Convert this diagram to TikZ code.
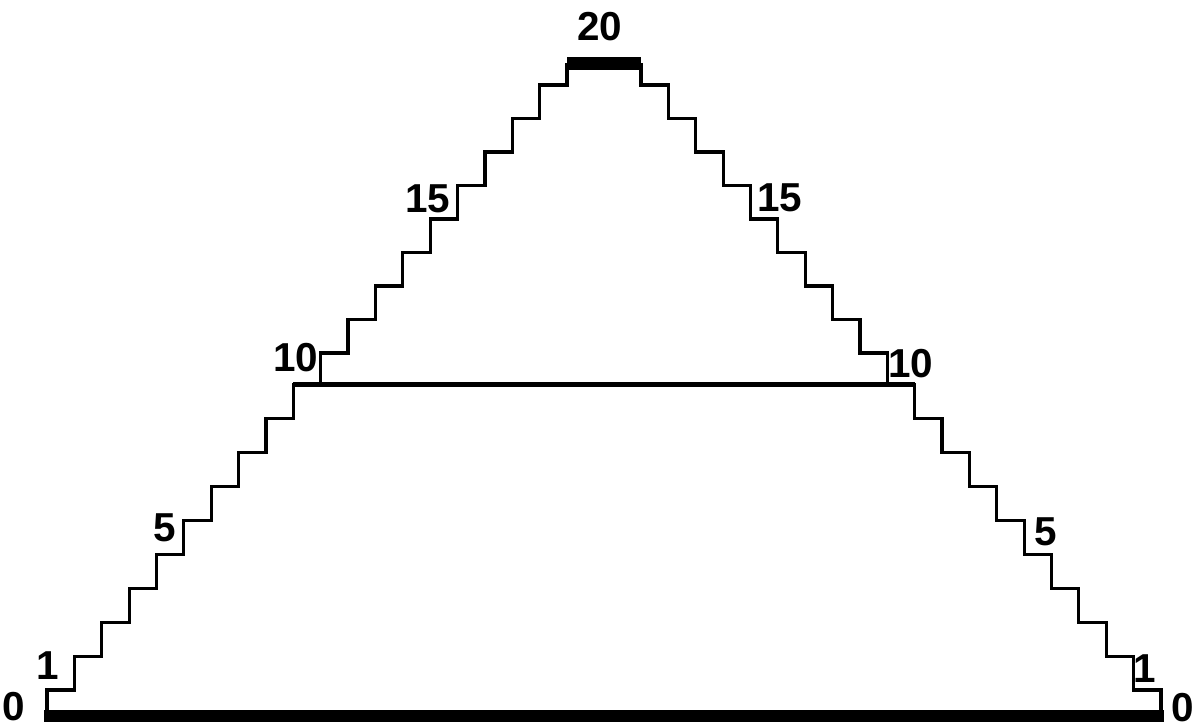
\documentclass[tikz,border=0pt]{standalone}
\usepackage{fontspec}
\setmainfont{Liberation Sans}
\usetikzlibrary{positioning}

\begin{document}
\begin{tikzpicture}[
  stairline/.style={line width=1.8pt, black},
  floorbar/.style={line width=6.8pt, black},
  landbar/.style={line width=3.2pt, black},
  topbar/.style={line width=7.4pt, black},
  lvl/.style={font=\fontsize{23}{23}\selectfont\bfseries, inner sep=0pt},
]
\useasboundingbox (0,0) rectangle (24.06,14.56);

% ===== Stairs (left half, mirrored for the right half) =====
\foreach \side in {1,-1} {
  \begin{scope}[shift={(12.08,0)}, xscale=\side]
    % lower flight: 0 -> 10
    \draw[stairline] (-11.14,0.24) -- (-11.14,0.76)
      \foreach \k in {1,...,9} { -- ++(0.5474,0) -- ++(0,0.678) } -- ++(0.5474,0);
    % upper flight: 10 -> 20
    \draw[stairline] (-5.666,6.86) -- (-5.666,7.5)
      \foreach \k in {11,...,18} { -- ++(0.5474,0) -- ++(0,0.67) }
      -- ++(0.5474,0) -- ++(0,0.43);
  \end{scope}
}

% ===== Landings =====
\draw[floorbar] (0.88,0.24) -- (23.28,0.24);
\draw[landbar] (5.8666,6.87) -- (18.2934,6.87);
\draw[topbar] (11.34,13.29) -- (12.82,13.29);

% ===== Level numbers =====
\node[lvl] (l0) at (0.28,0.42) {0};
\node[lvl] (l1) at (0.96,1.24) {1};
\node[lvl] (l5) at (3.30,4.00) {5};
\node[lvl] (l10) at (5.92,7.40) {10};
\node[lvl] (l15) at (8.56,10.58) {15};
\node[lvl] (top20) at (12.00,14.02) {20};
\node[lvl] (r15) at (15.60,10.60) {15};
\node[lvl] (r10) at (18.22,7.28) {10};
\node[lvl] (r5) at (20.92,3.92) {5};
\node[lvl] (r1) at (22.90,1.18) {1};
\node[lvl] (r0) at (23.66,0.40) {0};

\end{tikzpicture}
\end{document}
